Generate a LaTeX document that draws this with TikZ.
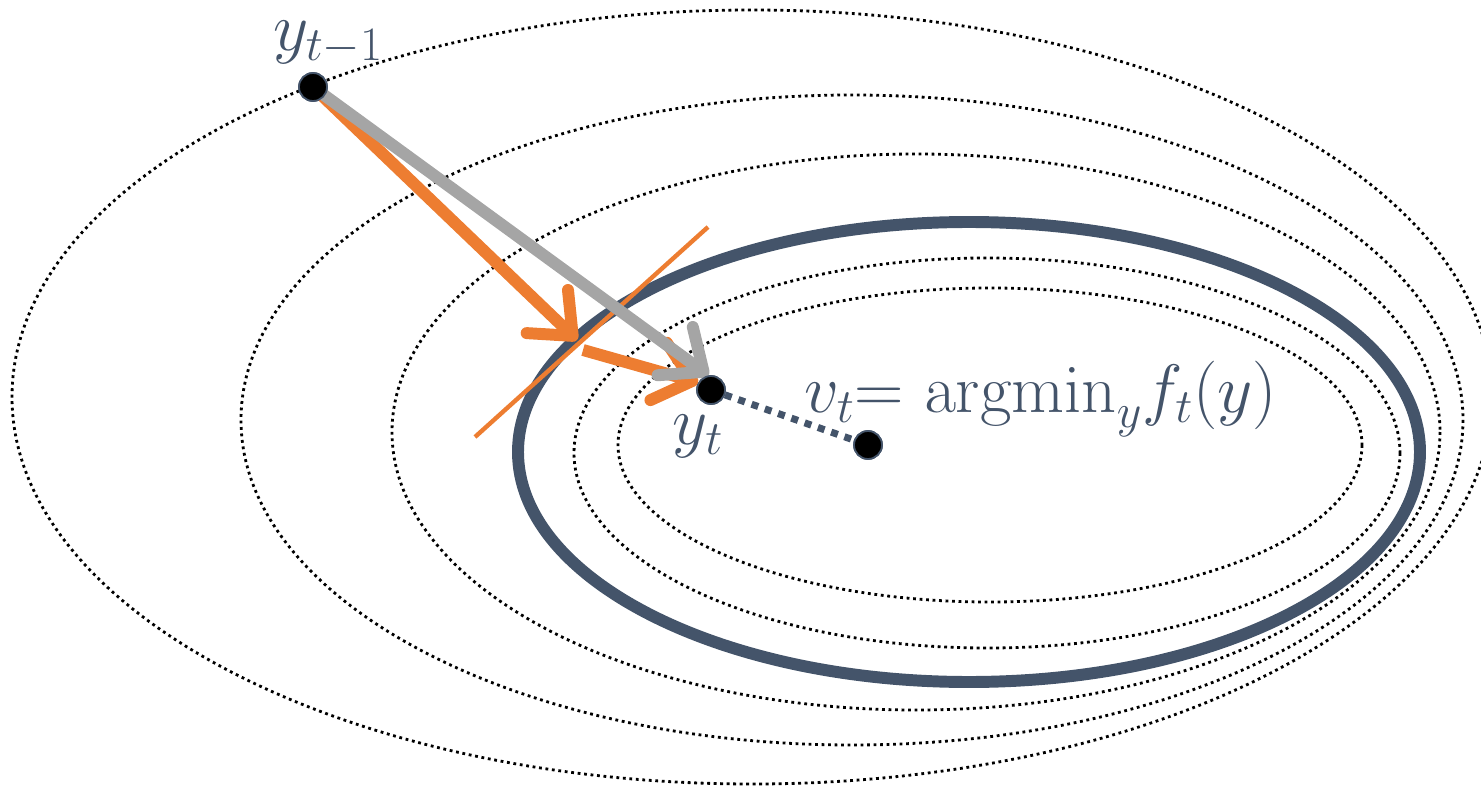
\RequirePackage{fix-cm}
\documentclass[tikz,border=0pt]{standalone}
\usetikzlibrary{arrows.meta,positioning}
\definecolor{SlateText}{HTML}{44546A}
\definecolor{StepOrange}{HTML}{ED7D31}
\definecolor{StepGray}{HTML}{A5A5A5}

\begin{document}
\begin{tikzpicture}[x=0.02cm,y=-0.02cm,
    level/.style={black,line width=1.6pt,dash pattern=on 1.6pt off 2.1pt},
    sublevel/.style={SlateText,line width=6.8pt},
    pt/.style={circle,fill=black,draw=SlateText,line width=1pt,
      minimum size=0.56cm,inner sep=0pt},
    lbl/.style={text=SlateText,font=\fontsize{39}{45}\selectfont,inner sep=0pt},
    stepline/.style={line width=6.8pt,
      -{Straight Barb[length=20pt,width=34pt,line width=6.8pt,round]}}
  ]
    \clip (0,0) rectangle (1481,787);

    % level sets of f_t
    \draw[level] (752,397) ellipse [x radius=740, y radius=387];
    \draw[level] (852,420) ellipse [x radius=611, y radius=325];
    \draw[level] (916,432) ellipse [x radius=524, y radius=278];
    \draw[sublevel] (969,452) ellipse [x radius=451, y radius=230];
    \draw[level] (987,453) ellipse [x radius=413, y radius=195];
    \draw[level] (990,445) ellipse [x radius=372, y radius=157];

    % points
    \node[pt] (yprev) at (313,87) {};
    \node[pt] (ycur) at (711,390) {};
    \node[pt] (vmin) at (868,445) {};

    % tangent and steps
    \coordinate (tanA) at (475,437);
    \coordinate (tanB) at (708,227);
    \coordinate (okink) at (577,340);
    \coordinate (ostart) at (583,350);
    \draw[StepOrange,line width=2.5pt] (tanA) -- (tanB);
    \draw[stepline,StepOrange] (yprev.center) -- (okink);
    \draw[stepline,StepOrange] (ostart) -- (ycur.150);
    \draw[stepline,StepGray] (yprev.center) -- (ycur.100);
    \draw[SlateText,line width=4pt,dash pattern=on 4pt off 4pt] (ycur) -- (vmin);

    % redraw the points on top
    \node[pt] at (yprev) {};
    \node[pt] at (ycur) {};
    \node[pt] at (vmin) {};

    % labels
    \node[lbl] (lprev) at (328,43) {$y_{t-1}$};
    \node[lbl] (lcur) at (698,436) {$y_t$};
    \node[lbl,anchor=base west] (lmin) at (804,412)
      {$v_t{=}\ \mathrm{argmin}_y f_t(y)$};
\end{tikzpicture}
\end{document}
